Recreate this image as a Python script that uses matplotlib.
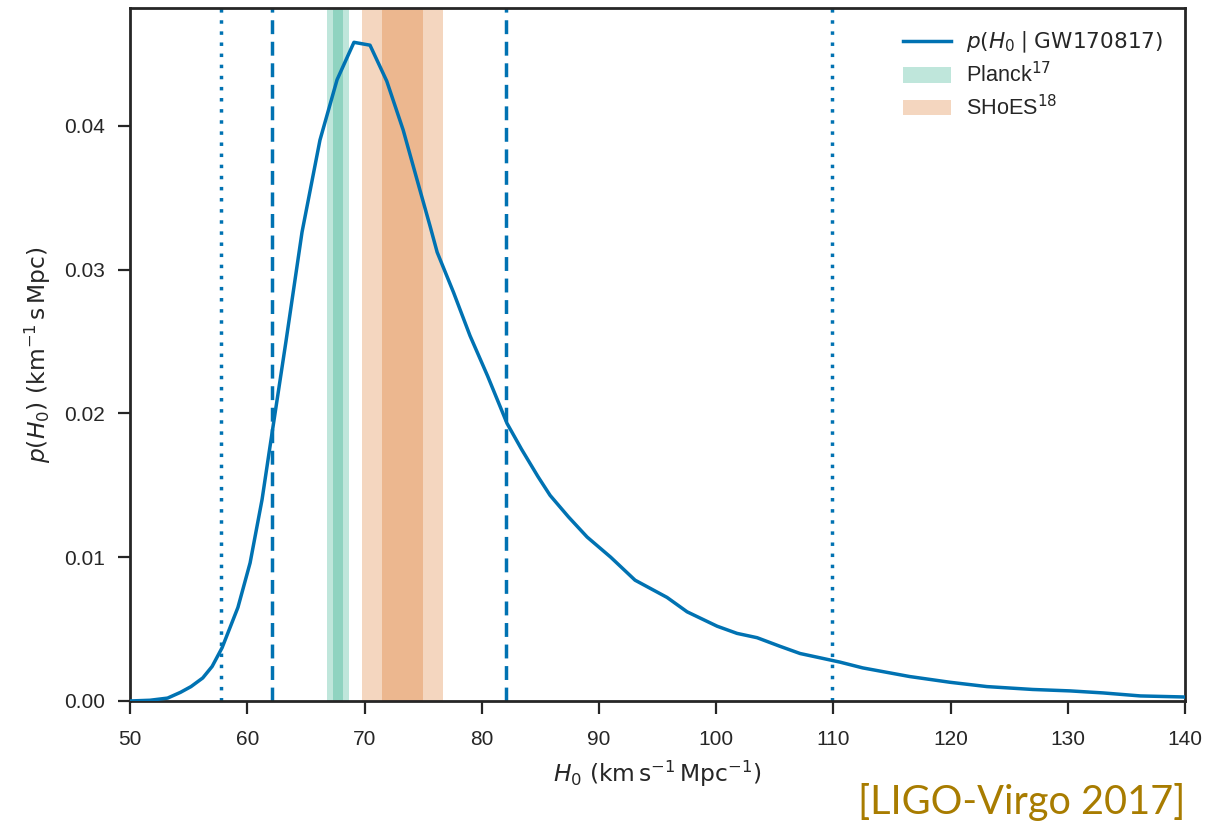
import matplotlib
matplotlib.use("Agg")
import matplotlib.pyplot as plt

# ---- data ----
h0 = [50.0, 51.7, 53.2, 54.3, 55.2, 56.2, 57.0, 57.85, 59.2, 60.24, 61.26, 61.94,
      63.3, 64.67, 66.2, 67.66, 69.1, 70.47, 71.9, 73.3, 74.6, 75.6, 76.2, 77.6,
      79.0, 80.5, 82.16, 83.4, 84.8, 85.83, 87.4, 88.99, 91.0, 93.08, 95.81, 97.52,
      100.08, 101.78, 103.49, 105.45, 107.16, 108.87, 110.57, 112.5, 116.5, 119.95,
      123.1, 127.0, 130.2, 133.0, 136.2, 139.8, 140.0]
p_h0 = [0.0, 0.00005, 0.0002, 0.0006, 0.001, 0.0016, 0.0024, 0.0037, 0.0065, 0.0096,
        0.0140, 0.0177, 0.0250, 0.0326, 0.0390, 0.0432, 0.0458, 0.0456, 0.0431, 0.0397,
        0.0359, 0.0330, 0.0312, 0.0284, 0.0254, 0.0226, 0.0193, 0.0175, 0.0156, 0.0143,
        0.0128, 0.0114, 0.0100, 0.0084, 0.0072, 0.0062, 0.0052, 0.0047, 0.0044, 0.0038,
        0.0033, 0.0030, 0.0027, 0.0023, 0.0017, 0.0013, 0.0010, 0.0008, 0.0007,
        0.00056, 0.00035, 0.00028, 0.00027]

planck_mean, planck_sigma = 67.74, 0.46
shoes_mean, shoes_sigma = 73.24, 1.74
ci68 = [62.1, 82.1]     # dashed
ci95 = [57.8, 109.9]    # dotted

xticks = [50, 60, 70, 80, 90, 100, 110, 120, 130, 140]
yticks = [0.00, 0.01, 0.02, 0.03, 0.04]

# ---- style ----
plt.rcParams['font.family'] = ['Liberation Sans', 'DejaVu Sans']
plt.rcParams['mathtext.fontset'] = 'dejavusans'

blue = '#0072B2'
green = '#009E73'
orange = '#D55E00'
dark = '#262626'

fig = plt.figure(figsize=(12.27, 8.21), dpi=100)
ax = fig.add_axes([0.106, 0.1462, 0.8598, 0.8443])

ax.plot(h0, p_h0, color=blue, lw=2.5, label=r'$p(H_0\mid\mathrm{GW170817})$', zorder=5)

ax.axvspan(planck_mean - 2 * planck_sigma, planck_mean + 2 * planck_sigma,
           color=green, alpha=0.25, lw=0, label=r'Planck$^{17}$')
ax.axvspan(planck_mean - planck_sigma, planck_mean + planck_sigma,
           color=green, alpha=0.25, lw=0)
ax.axvspan(shoes_mean - 2 * shoes_sigma, shoes_mean + 2 * shoes_sigma,
           color=orange, alpha=0.25, lw=0, label=r'SHoES$^{18}$')
ax.axvspan(shoes_mean - shoes_sigma, shoes_mean + shoes_sigma,
           color=orange, alpha=0.25, lw=0)

for x in ci68:
    ax.axvline(x, color=blue, ls=(0, (4, 2.2)), lw=2.5)
for x in ci95:
    ax.axvline(x, color=blue, ls=(0, (1, 2.2)), lw=2.5)

ax.set_xlim(50, 140)
ax.set_ylim(0, 0.0482)
ax.set_xticks(xticks)
ax.set_yticks(yticks)
ax.set_yticklabels([f'{v:.2f}' for v in yticks])

for s in ax.spines.values():
    s.set_color(dark)
    s.set_linewidth(2.0)
ax.tick_params(direction='out', length=9, width=1.6, color=dark,
               labelsize=15, labelcolor=dark, pad=9)
ax.tick_params(axis='x', pad=12)

ax.set_xlabel(r'$H_0\ (\mathrm{km\,s^{-1}\,Mpc^{-1}})$', fontsize=16.8, color=dark, labelpad=7)
ax.set_ylabel(r'$p(H_0)\ (\mathrm{km^{-1}\,s\,Mpc})$', fontsize=16.8, color=dark, labelpad=8)

leg = ax.legend(loc='upper right', frameon=False, fontsize=15.6, handlelength=2.2,
                borderaxespad=0.6, labelspacing=0.35, handletextpad=0.7)
for t in leg.get_texts():
    t.set_color(dark)

fig.text(0.966, 0.0, '[LIGO-Virgo 2017]', ha='right', va='bottom',
         fontsize=28.5, color='#A87C00', family=['Lato', 'DejaVu Sans'])

fig.savefig('out.png', dpi=100)
